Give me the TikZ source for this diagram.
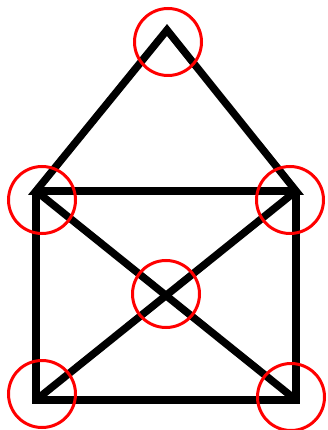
\documentclass[tikz,border=0pt]{standalone}
\begin{document}
\begin{tikzpicture}[x=1pt,y=-1pt,
  edge/.style={line width=7.5pt,line join=miter,black},
  ring/.style={draw=red,line width=3pt,circle,minimum size=67pt,inner sep=0pt}]
\useasboundingbox (0,0) rectangle (327,430);
\coordinate (A) at (167,30);
\coordinate (TL) at (36,191);
\coordinate (TR) at (296,191);
\coordinate (BL) at (36,400);
\coordinate (BR) at (296,400);
\draw[edge] (TL) -- (A) -- (TR) -- (TL) -- cycle;
\draw[edge] (TL) -- (BL) -- (BR) -- (TR);
\draw[edge] (TL) -- (BR);
\draw[edge] (TR) -- (BL);
\node[ring] (c1) at (168,42) {};
\node[ring] (c2) at (42,200) {};
\node[ring] (c3) at (290,200) {};
\node[ring] (c4) at (166,294) {};
\node[ring] (c5) at (42,394) {};
\node[ring] (c6) at (291,397) {};
\end{tikzpicture}
\end{document}
